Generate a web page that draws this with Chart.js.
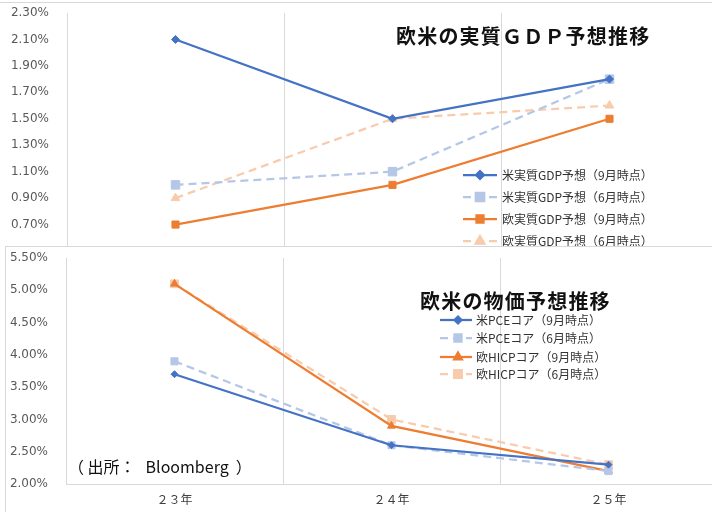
<!DOCTYPE html>
<html lang="ja">
<head>
<meta charset="utf-8">
<script src="https://cdn.jsdelivr.net/npm/chart.js@4/dist/chart.umd.min.js"></script>
<style>
  html, body { margin: 0; padding: 0; background: #fff; }
  body { width: 712px; height: 512px; position: relative; overflow: hidden;
         font-family: "Noto Sans CJK JP", "Noto Sans", sans-serif; }
  .box { position: absolute; overflow: hidden; }
  #topBox { left: 0; top: 2px; width: 712px; height: 244px; border-top: 1px solid #d9d9d9; }
  #topBox canvas { position: absolute; left: 0; top: -2px; }
  #botBox { left: 5px; top: 246px; width: 707px; height: 266px; border-top: 1px solid #d9d9d9; border-left: 1px solid #d9d9d9; }
  #botBox canvas { position: absolute; left: -6px; top: -1px; }
  .title { position: absolute; font-weight: bold; font-size: 20px; color: #111; white-space: nowrap; letter-spacing: 1.2px; }
  .src { position: absolute; font-size: 16px; color: #111; white-space: nowrap; }
</style>
</head>
<body>
<div id="topBox" class="box"><canvas id="gdpChart" width="740" height="270"></canvas></div>
<div id="botBox" class="box"><canvas id="cpiChart" width="740" height="266"></canvas></div>
<div class="title" style="left:396px; top:21px;">欧米の実質ＧＤＰ予想推移</div>
<div class="title" style="left:420px; top:286px;">欧米の物価予想推移</div>
<div class="src" style="left:68px; top:454px;">（&nbsp;出所<span style="margin-right:10px">：</span>Bloomberg&nbsp;&nbsp;）</div>

<script>
// categories
const years = ['２３年', '２４年', '２５年'];

// real GDP forecasts (%)
const usGdpSep = [2.1, 1.5, 1.8];
const usGdpJun = [1.0, 1.1, 1.8];
const euGdpSep = [0.7, 1.0, 1.5];
const euGdpJun = [0.9, 1.5, 1.6];
const gdpTicks = [0.7, 0.9, 1.1, 1.3, 1.5, 1.7, 1.9, 2.1, 2.3];

// core inflation forecasts (%)
const usPceSep = [3.7, 2.6, 2.3];
const usPceJun = [3.9, 2.6, 2.2];
const euHicpSep = [5.1, 2.9, 2.2];
const euHicpJun = [5.1, 3.0, 2.3];
const cpiTicks = [2.0, 2.5, 3.0, 3.5, 4.0, 4.5, 5.0, 5.5];

const BLUE = '#4472c4', LBLUE = '#b4c7e7', ORANGE = '#ed7d31', LORANGE = '#f8cbad';
const GRID = '#d9d9d9';

function series(label, data, color, dashed, style, radius) {
  return {
    label, data,
    borderColor: color, backgroundColor: color,
    borderWidth: 2.25,
    borderDash: dashed ? [8, 5] : [],
    pointStyle: style, pointRadius: radius, pointHoverRadius: radius,
    pointBorderWidth: 1, pointBorderColor: color, pointBackgroundColor: color,
    tension: 0
  };
}

// legend drawn inside the plot, Excel style
function legendPlugin(x1, x2, xm, xt, rows) {
  return {
    id: 'insideLegend',
    afterDraw(chart) {
      const ctx = chart.ctx;
      ctx.save();
      chart.data.datasets.forEach((ds, i) => {
        const y = rows[i];
        ctx.strokeStyle = ds.borderColor;
        ctx.lineWidth = ds.borderWidth;
        ctx.setLineDash(ds.borderDash);
        ctx.beginPath();
        ctx.moveTo(x1, y);
        ctx.lineTo(x2, y);
        ctx.stroke();
        ctx.setLineDash([]);
        ctx.fillStyle = ds.backgroundColor;
        Chart.helpers.drawPoint(ctx, { pointStyle: ds.pointStyle, radius: ds.pointRadius, rotation: 0, borderWidth: 1 }, xm, y);
        ctx.fillStyle = '#333';
        ctx.font = '12px "Noto Sans CJK JP"';
        ctx.textBaseline = 'middle';
        ctx.fillText(ds.label, xt, y);
      });
      ctx.restore();
    }
  };
}

function yScale(min, max, ticks, width) {
  return {
    min, max,
    afterBuildTicks(s) { s.ticks = ticks.map(v => ({ value: v })); },
    afterFit(s) { s.width = width; s.paddingTop = 0; s.paddingBottom = 0; },
    grid: { display: false },
    border: { display: false },
    ticks: {
      padding: 10,
      color: '#595959',
      font: { family: 'DejaVu Sans', size: 12 },
      callback: v => Number(v).toFixed(2) + '%'
    }
  };
}

Chart.defaults.animation = false;

new Chart(document.getElementById('gdpChart'), {
  type: 'line',
  data: {
    labels: years,
    datasets: [
      series('米実質GDP予想（9月時点）', usGdpSep, BLUE, false, 'rectRot', 4),
      series('米実質GDP予想（6月時点）', usGdpJun, LBLUE, true, 'rect', 6),
      series('欧実質GDP予想（9月時点）', euGdpSep, ORANGE, false, 'rect', 5),
      series('欧実質GDP予想（6月時点）', euGdpJun, LORANGE, true, 'triangle', 5)
    ]
  },
  options: {
    responsive: false,
    layout: { padding: { top: 12, bottom: 20, right: 22, left: 0 } },
    plugins: { legend: { display: false }, tooltip: { enabled: false } },
    scales: {
      x: {
        offset: true,
        grid: { offset: true, color: GRID, drawTicks: false },
        border: { display: false },
        ticks: { display: false },
        afterFit(s) { s.height = 0; }
      },
      y: yScale(0.5, 2.3, gdpTicks, 67)
    }
  },
  plugins: [legendPlugin(463, 497, 480, 502, [174, 196, 218, 240])]
});

new Chart(document.getElementById('cpiChart'), {
  type: 'line',
  data: {
    labels: years,
    datasets: [
      series('米PCEコア（9月時点）', usPceSep, BLUE, false, 'rectRot', 3.5),
      series('米PCEコア（6月時点）', usPceJun, LBLUE, true, 'rect', 5),
      series('欧HICPコア（9月時点）', euHicpSep, ORANGE, false, 'triangle', 4.5),
      series('欧HICPコア（6月時点）', euHicpJun, LORANGE, true, 'rect', 5.5)
    ]
  },
  options: {
    responsive: false,
    layout: { padding: { top: 12, bottom: 0, right: 23, left: 0 } },
    plugins: { legend: { display: false }, tooltip: { enabled: false } },
    scales: {
      x: {
        offset: true,
        grid: { offset: true, color: GRID, drawTicks: false },
        border: { display: true, color: GRID, width: 1 },
        ticks: { padding: 8, color: '#404040', font: { family: 'Noto Sans CJK JP', size: 12 } },
        afterFit(s) { s.height = 28; }
      },
      y: yScale(2.0, 5.5, cpiTicks, 66)
    }
  },
  plugins: [legendPlugin(440, 472, 458, 476, [74, 92, 111, 128])]
});
</script>
</body>
</html>
